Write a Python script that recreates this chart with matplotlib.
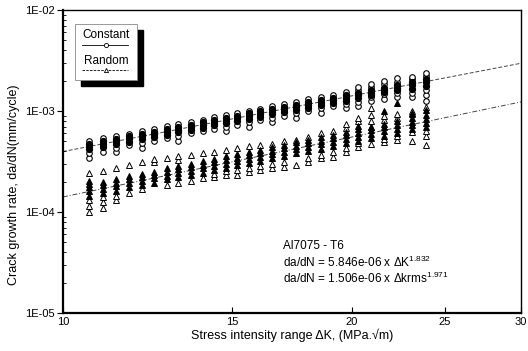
import matplotlib
matplotlib.use("Agg")
import matplotlib.pyplot as plt
from matplotlib.patches import Rectangle
from matplotlib.lines import Line2D
from matplotlib.ticker import FixedLocator, FixedFormatter, NullLocator, LogLocator, NullFormatter

plt.rcParams["font.family"] = ["Liberation Sans", "DejaVu Sans"]
plt.rcParams["mathtext.default"] = "regular"

# stress intensity range of each measured column (MPa.sqrt(m))
dk = [10.64, 11.01, 11.36, 11.71, 12.09, 12.44, 12.83, 13.18, 13.59, 13.99,
      14.36, 14.78, 15.18, 15.62, 16.04, 16.51, 16.99, 17.49, 18.00, 18.57,
      19.11, 19.72, 20.29, 20.94, 21.60, 22.28, 23.09, 23.88]

# constant amplitude, da/dN in 1e-4 mm/cycle (dense core / scattered open points)
const_core = [
    [4.2, 4.45, 4.75], [4.4, 4.72, 5.05], [4.7, 5.0, 5.3], [4.95, 5.28, 5.6],
    [5.25, 5.6, 5.95], [5.5, 5.89, 6.25], [5.85, 6.23, 6.6], [6.15, 6.54, 6.95],
    [6.5, 6.92, 7.35], [6.85, 7.28, 7.7], [7.2, 7.65, 8.1], [7.55, 8.05, 8.55],
    [7.95, 8.45, 8.95], [8.35, 8.9, 9.45], [8.8, 9.34, 9.9], [9.25, 9.84, 10.45],
    [9.75, 10.36, 11.0], [10.25, 10.91, 11.55], [10.8, 11.51, 12.2], [11.4, 12.17, 12.9],
    [12.0, 12.81, 13.6], [12.7, 13.55, 14.4], [13.4, 14.27, 15.2], [14.5, 15.09, 16.0],
    [15.3, 15.97, 17.0], [16.1, 16.92, 18.0], [16.6, 18.06, 19.3], [17.8, 19.19, 20.6],
]
const_open = [
    [3.45, 3.85, 5.0], [3.95, 5.45], [3.9, 4.35, 5.65], [4.6, 5.95],
    [4.35, 4.85, 6.3], [5.1, 6.65], [5.4, 7.05], [5.1, 5.7, 7.4],
    [6.0, 7.8], [6.35, 8.2], [6.65, 8.65], [6.3, 7.0, 9.1],
    [7.35, 9.55], [6.95, 7.75, 10.0], [8.1, 10.55], [7.7, 8.55, 11.1],
    [9.0, 11.7], [8.5, 9.5, 12.3], [10.0, 13.0], [9.5, 10.6, 13.7],
    [11.1, 14.5], [10.6, 11.8, 15.4], [11.2, 12.4, 16.1, 17.1], [12.6, 13.7, 17.2, 18.6],
    [13.2, 14.6, 18.3, 19.8], [13.9, 15.1, 19.4, 21.0], [13.8, 15.2, 20.6, 21.7],
    [12.7, 14.5, 16.3, 22.3, 24.0],
]

# random loading, da/dN in 1e-4 mm/cycle
rand_core = [
    [1.45, 1.6, 1.75, 1.9, 2.05], [1.55, 1.7, 1.85, 2.0], [1.6, 1.8, 1.95, 2.1], [1.75, 1.92, 2.1, 2.25],
    [1.85, 2.04, 2.2, 2.4], [1.95, 2.15, 2.35, 2.5], [2.1, 2.29, 2.5, 2.7], [2.2, 2.41, 2.65, 2.85],
    [2.35, 2.56, 2.8, 3.0], [2.45, 2.71, 2.95, 3.2], [2.6, 2.85, 3.1, 3.35], [2.75, 3.01, 3.3, 3.55],
    [2.9, 3.17, 3.45, 3.75], [3.05, 3.36, 3.65, 3.95], [3.2, 3.54, 3.85, 4.15], [3.4, 3.74, 4.05, 4.4],
    [3.6, 3.95, 4.3, 4.65], [3.8, 4.18, 4.55, 4.9], [4.0, 4.43, 4.85, 5.2], [4.25, 4.7, 5.1, 5.5],
    [4.5, 4.97, 5.4, 5.8], [4.8, 5.28, 5.75, 6.2], [5.1, 5.58, 6.1, 6.6, 7.1], [5.4, 5.93, 6.5, 7.0],
    [5.7, 6.3, 6.9, 7.4, 10.1], [6.1, 6.7, 7.3, 7.9, 12.0], [6.6, 7.19, 7.8, 8.5, 9.5],
    [7.0, 7.67, 8.4, 9.2, 10.2],
]
rand_open = [
    [1.0, 1.15, 1.3, 2.45], [1.1, 1.25, 1.4, 2.55], [1.3, 1.45, 2.7], [1.55, 2.9],
    [1.7, 3.1], [3.1, 3.35], [1.85, 3.45], [1.95, 3.3, 3.6],
    [2.05, 3.7], [2.15, 3.85], [2.2, 2.4, 3.9], [2.3, 2.55, 4.1],
    [2.35, 2.6, 4.3], [2.5, 2.75, 4.5], [2.6, 2.85, 4.6], [2.7, 3.0, 4.75],
    [2.8, 3.1, 5.0], [2.95, 5.2], [3.1, 3.4, 5.5], [3.4, 3.7, 6.0],
    [3.5, 3.9, 6.4], [3.9, 4.3, 6.8, 7.4], [4.4, 4.8, 7.9, 8.6], [4.7, 7.0, 8.0, 9.2, 10.7],
    [4.9, 5.3, 8.2, 9.0], [5.2, 5.7, 8.6, 9.4], [5.0, 6.2, 9.3, 10.0], [4.6, 5.6, 6.4, 11.0],
]

# fitted power-law lines, end points at dK = 10 and 30
fit_x = [10, 30]
const_fit = [3.97e-4, 2.97e-3]
rand_fit = [1.41e-4, 1.23e-3]

ytick_vals = [1e-5, 1e-4, 1e-3, 1e-2]
ytick_labels = ["1E-05", "1E-04", "1E-03", "1E-02"]
xtick_vals = [10, 15, 20, 25, 30]
xtick_labels = ["10", "15", "20", "25", "30"]

fig = plt.figure(figsize=(5.28, 3.51), dpi=100)
ax = fig.add_axes([63 / 528, 1 - 313 / 351, 458 / 528, 303 / 351])

ax.plot(fit_x, const_fit, color="#444444", lw=0.7, ls=(0, (4, 2)), zorder=1)
ax.plot(fit_x, rand_fit, color="#444444", lw=0.7, ls=(0, (5, 2, 1, 2)), zorder=1)

for x, core, opn in zip(dk, const_core, const_open):
    ax.plot([x] * len(opn), [v * 1e-4 for v in opn], "o", ms=4.0, mfc="white", mec="black", mew=0.8, zorder=2)
    ax.plot([x] * len(core), [v * 1e-4 for v in core], "o", ms=4.4, mfc="black", mec="black", mew=0.8, zorder=3)
for x, core, opn in zip(dk, rand_core, rand_open):
    ax.plot([x] * len(opn), [v * 1e-4 for v in opn], "^", ms=4.0, mfc="white", mec="black", mew=0.7, zorder=2)
    ax.plot([x] * len(core), [v * 1e-4 for v in core], "^", ms=4.4, mfc="black", mec="black", mew=0.7, zorder=3)

ax.set_xscale("log")
ax.set_yscale("log")
ax.set_xlim(10, 30)
ax.set_ylim(1e-5, 1e-2)
ax.xaxis.set_major_locator(FixedLocator(xtick_vals))
ax.xaxis.set_major_formatter(FixedFormatter(xtick_labels))
ax.xaxis.set_minor_locator(NullLocator())
ax.yaxis.set_major_locator(FixedLocator(ytick_vals))
ax.yaxis.set_major_formatter(FixedFormatter(ytick_labels))
ax.yaxis.set_minor_locator(LogLocator(base=10, subs=range(2, 10)))
ax.yaxis.set_minor_formatter(NullFormatter())
ax.tick_params(axis="x", direction="in", length=4, width=0.8, labelsize=8, pad=3)
ax.tick_params(axis="y", which="major", direction="out", length=4, width=0.8, labelsize=8, pad=2)
ax.tick_params(axis="y", which="minor", direction="in", length=2.5, width=0.6)
for side in ["left", "bottom"]:
    ax.spines[side].set_linewidth(1.6)
for side in ["top", "right"]:
    ax.spines[side].set_linewidth(1.0)

ax.set_xlabel("Stress intensity range \u0394K, (MPa.\u221am)", fontsize=9, labelpad=1)
fig.text(14 / 528, 1 - 185 / 351, "Crack growth rate, da/dN(mm/cycle)", rotation=90,
         fontsize=9, ha="center", va="center")

# legend box with drop shadow
bx, by, bw, bh = 0.0262, 0.769, 0.1354, 0.1848
ax.add_patch(Rectangle((bx + 0.0131, by - 0.0198), bw, bh, transform=ax.transAxes,
                       facecolor="black", edgecolor="black", zorder=5, clip_on=False))
ax.add_patch(Rectangle((bx, by), bw, bh, transform=ax.transAxes,
                       facecolor="white", edgecolor="#888888", lw=0.6, zorder=6, clip_on=False))
ax.text(0.0939, 0.9175, "Constant", transform=ax.transAxes, fontsize=8.5, ha="center", va="center", zorder=7)
ax.text(0.0939, 0.8317, "Random", transform=ax.transAxes, fontsize=8.5, ha="center", va="center", zorder=7)
ax.add_line(Line2D([0.0415, 0.142], [0.8845, 0.8845], transform=ax.transAxes, color="black", lw=0.6, zorder=7))
ax.add_line(Line2D([0.0939], [0.8845], transform=ax.transAxes, marker="o", ms=3, mfc="white", mec="black", mew=0.6, zorder=8))
ax.add_line(Line2D([0.0415, 0.142], [0.802, 0.802], transform=ax.transAxes, color="black", lw=0.6, ls=(0, (3, 1.5)), zorder=7))
ax.add_line(Line2D([0.0939], [0.802], transform=ax.transAxes, marker="^", ms=3, mfc="white", mec="black", mew=0.6, zorder=8))

ax.text(0.48, 0.221, "Al7075 - T6", transform=ax.transAxes, fontsize=8.5, va="center")
ax.text(0.48, 0.168, "da/dN = 5.846e-06 x \u0394K$^{1.832}$", transform=ax.transAxes, fontsize=8.5, va="center")
ax.text(0.48, 0.1155, "da/dN = 1.506e-06 x \u0394krms$^{1.971}$", transform=ax.transAxes, fontsize=8.5, va="center")

fig.savefig("out.png", dpi=100)
